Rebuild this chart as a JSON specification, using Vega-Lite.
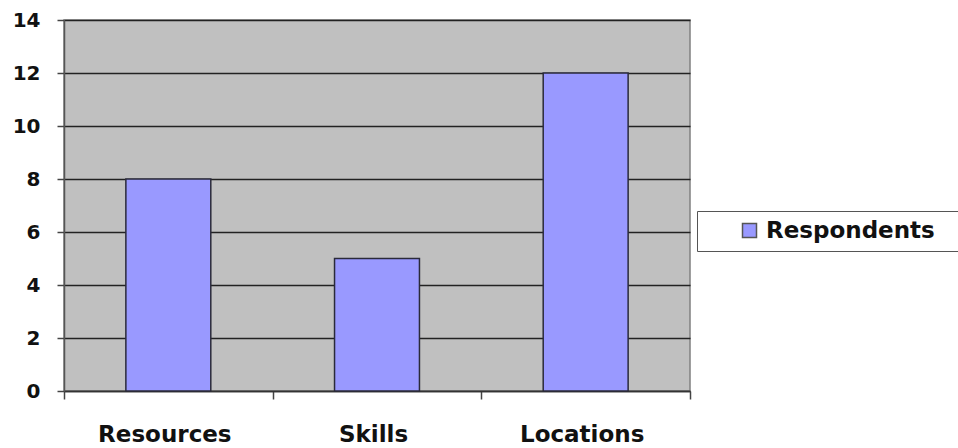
{
  "$schema": "https://vega.github.io/schema/vega-lite/v6.json",
  "autosize": "none",
  "padding": {"left": 64, "top": 20, "right": 268, "bottom": 57},
  "width": 626,
  "height": 371,
  "background": "white",
  "data": {
    "values": [
      {"category": "Resources", "series": "Respondents", "count": 8},
      {"category": "Skills", "series": "Respondents", "count": 5},
      {"category": "Locations", "series": "Respondents", "count": 12}
    ]
  },
  "mark": {
    "type": "bar",
    "width": {"band": 0.407},
    "stroke": "#2a2a3a",
    "strokeWidth": 1.5
  },
  "encoding": {
    "x": {
      "field": "category",
      "type": "nominal",
      "sort": null,
      "scale": {"paddingInner": 0, "paddingOuter": 0},
      "axis": {
        "title": null,
        "labelAngle": 0,
        "tickBand": "extent",
        "tickSize": 8,
        "tickColor": "#444444",
        "tickWidth": 1.5,
        "domainColor": "#333333",
        "domainWidth": 1.5,
        "labelFont": "DejaVu Sans",
        "labelFontWeight": "bold",
        "labelFontSize": 23,
        "labelColor": "#111111",
        "labelPadding": 24,
        "labelOffset": -4
      }
    },
    "y": {
      "field": "count",
      "type": "quantitative",
      "scale": {"domain": [0, 14]},
      "axis": {
        "title": null,
        "values": [0, 2, 4, 6, 8, 10, 12, 14],
        "grid": true,
        "gridColor": "#222222",
        "gridWidth": 1.5,
        "tickSize": 7,
        "tickColor": "#444444",
        "tickWidth": 1.5,
        "domainColor": "#555555",
        "domainWidth": 1.5,
        "labelFont": "DejaVu Sans",
        "labelFontWeight": "bold",
        "labelFontSize": 20,
        "labelColor": "#111111",
        "labelPadding": 17
      }
    },
    "fill": {
      "field": "series",
      "type": "nominal",
      "scale": {"range": ["#9999ff"]},
      "legend": {
        "title": null,
        "orient": "none",
        "legendX": 633,
        "legendY": 191,
        "padding": 8,
        "strokeColor": "#555555",
        "fillColor": "white",
        "symbolType": "square",
        "symbolSize": 196,
        "symbolStrokeColor": "#555555",
        "symbolStrokeWidth": 1.5,
        "symbolOffset": 33,
        "labelOffset": 5,
        "labelFont": "DejaVu Sans",
        "labelFontWeight": "bold",
        "labelFontSize": 23,
        "labelColor": "#111111",
        "labelLimit": 400,
        "labelExpr": "datum.label + '\u2800'"
      }
    }
  },
  "config": {
    "view": {"fill": "#c0c0c0", "stroke": "#808080", "strokeWidth": 1.5}
  }
}
